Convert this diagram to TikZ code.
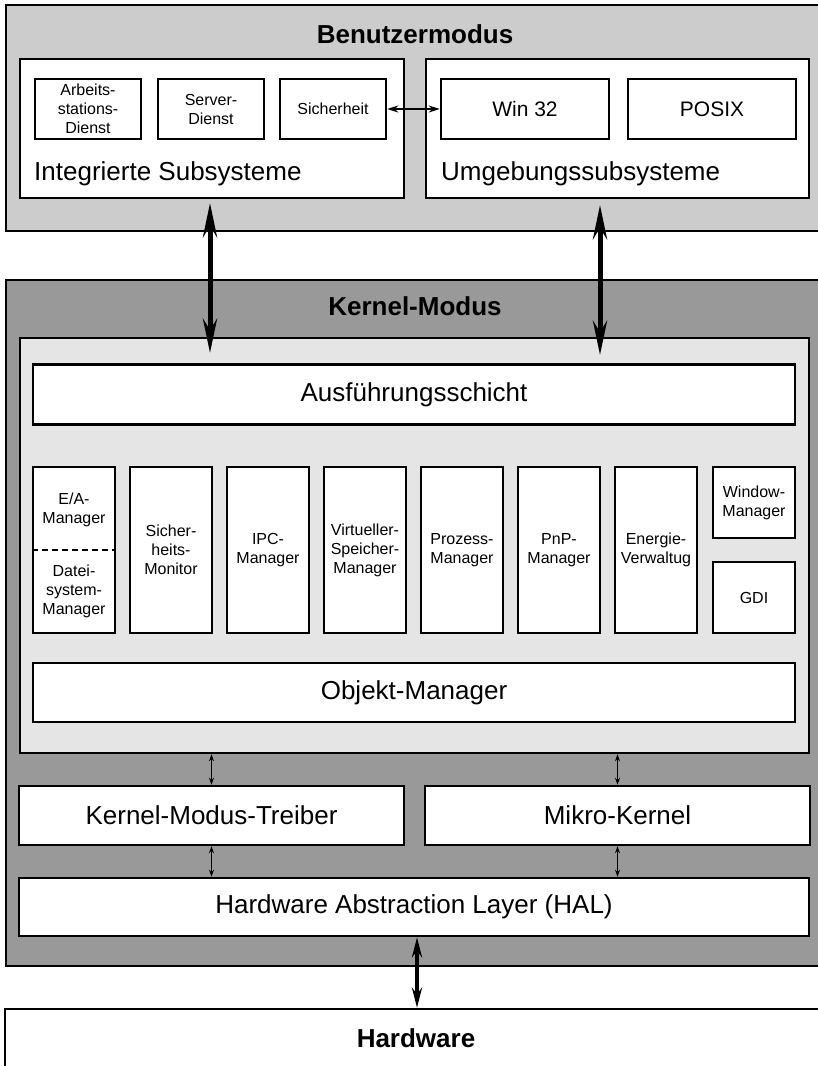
\documentclass[tikz,border=0pt]{standalone}
\usepackage{fontspec}
\setmainfont{Liberation Sans}
\usetikzlibrary{arrows.meta}

\begin{document}
\begin{tikzpicture}[x=1pt, y=-1pt,
  layer/.style={draw, line width=2.5pt, inner sep=0pt},
  box/.style={draw, line width=2.5pt, fill=white, inner sep=0pt},
  bigtext/.style={font=\fontsize{26}{30}\selectfont, inner sep=0pt},
  midtext/.style={font=\fontsize{21}{25}\selectfont},
  smalltext/.style={font=\fontsize{16}{19}\selectfont, align=center},
  modul/.style={box, smalltext, minimum width=82pt, minimum height=166pt},
  bigarrow/.style={{Stealth[length=34pt,width=14pt]}-{Stealth[length=34pt,width=14pt]}, line width=5pt},
  halarrow/.style={{Stealth[length=20pt,width=10pt]}-{Stealth[length=20pt,width=10pt]}, line width=4pt},
  midarrow/.style={{Stealth[length=11pt,width=7pt]}-{Stealth[length=11pt,width=7pt]}, line width=2pt},
  smallarrow/.style={{Stealth[length=7pt,width=5pt]}-{Stealth[length=7pt,width=5pt]}, line width=1.2pt}]
  \useasboundingbox (0,0) rectangle (818,1066);
  \clip (0,0) rectangle (818,1066);

  % Benutzermodus
  \node[layer, fill=black!20, minimum width=834pt, minimum height=226pt] (BM) at (423,118) {};
  \node[bigtext, font=\fontsize{26}{30}\selectfont\bfseries, anchor=base] at (415,43) {Benutzermodus};

  \node[box, minimum width=384pt, minimum height=139pt] (IS) at (212,128.5) {};
  \node[box, minimum width=383pt, minimum height=139pt] (US) at (617.5,128.5) {};
  \node[bigtext, anchor=base west] at (34,180) {Integrierte Subsysteme};
  \node[bigtext, anchor=base west] at (441,180) {Umgebungssubsysteme};

  \node[box, smalltext, minimum width=106pt, minimum height=60pt] (AD) at (88,109) {Arbeits-\\stations-\\Dienst};
  \node[box, smalltext, minimum width=106pt, minimum height=60pt] (SD) at (211,109) {Server-\\Dienst};
  \node[box, smalltext, minimum width=106pt, minimum height=60pt] (SH) at (333,109) {Sicherheit};
  \node[box, midtext, minimum width=168pt, minimum height=60pt] (W32) at (525,109) {Win 32};
  \node[box, midtext, minimum width=168pt, minimum height=60pt] (PX) at (712,109) {POSIX};

  \draw[midarrow] (SH) -- (W32);

  % Kernel-Modus
  \node[layer, fill=black!40, minimum width=834pt, minimum height=686pt] (KM) at (423,623) {};
  \node[bigtext, font=\fontsize{26}{30}\selectfont\bfseries, anchor=base] at (415,315) {Kernel-Modus};
  \node[layer, fill=black!10, minimum width=789pt, minimum height=415pt] (LG) at (414.5,545.5) {};

  \node[box, bigtext, minimum width=762pt, minimum height=60pt] (AS) at (414,394.5) {Ausführungsschicht};

  \node[modul] (EA) at (74,550) {};
  \draw[line width=2.5pt, dashed, dash pattern=on 6pt off 4pt] (EA.west) -- (EA.east);
  \node[smalltext] at (74,510) {E/A-\\Manager};
  \node[smalltext] at (74,591) {Datei-\\system-\\Manager};
  \node[modul] (SM) at (171,550) {Sicher-\\heits-\\Monitor};
  \node[modul] (IPC) at (268,550) {IPC-\\Manager};
  \node[modul] (VS) at (365,550) {Virtueller-\\Speicher-\\Manager};
  \node[modul] (PM) at (462,550) {Prozess-\\Manager};
  \node[modul] (PNP) at (559,550) {PnP-\\Manager};
  \node[modul] (EV) at (656,550) {Energie-\\Verwaltug};
  \node[box, smalltext, minimum width=82pt, minimum height=71pt] (WM) at (754,502.5) {Window-\\Manager};
  \node[box, smalltext, minimum width=82pt, minimum height=71pt] (GDI) at (754,597.5) {GDI};

  \node[box, bigtext, minimum width=762pt, minimum height=59pt] (OM) at (414,692.5) {Objekt-Manager};

  \node[box, bigtext, minimum width=385pt, minimum height=59pt] (KT) at (211.5,815.5) {Kernel-Modus-Treiber};
  \node[box, bigtext, minimum width=385pt, minimum height=59pt] (MK) at (617.5,815.5) {Mikro-Kernel};
  \node[box, bigtext, minimum width=790pt, minimum height=58pt] (HAL) at (414,907) {Hardware Abstraction Layer (HAL)};

  \draw[smallarrow] (KT.north |- LG.south) -- (KT.north);
  \draw[smallarrow] (MK.north |- LG.south) -- (MK.north);
  \draw[smallarrow] (KT.south) -- (KT.south |- HAL.north);
  \draw[smallarrow] (MK.south) -- (MK.south |- HAL.north);

  % Hardware
  \node[layer, fill=white, minimum width=835pt, minimum height=81pt] (HW) at (422.5,1049.5) {};
  \node[bigtext, font=\fontsize{26}{30}\selectfont\bfseries, anchor=base] at (416,1047) {Hardware};

  \coordinate (a1) at (210,203);
  \coordinate (b1) at (210,353);
  \coordinate (a2) at (600,205);
  \coordinate (b2) at (600,355);
  \draw[bigarrow] (a1) -- (b1);
  \draw[bigarrow] (a2) -- (b2);
  \draw[halarrow] ([xshift=3pt]HAL.south) -- ([xshift=3pt]HAL.south |- HW.north);
\end{tikzpicture}
\end{document}
